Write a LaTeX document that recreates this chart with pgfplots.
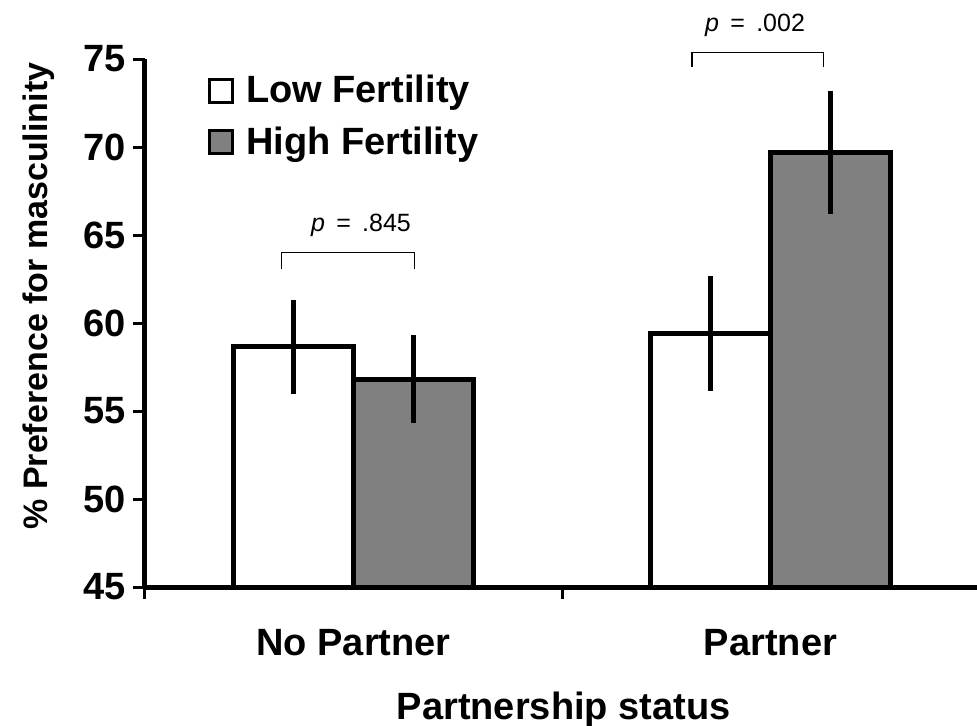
\documentclass[border=0pt]{standalone}
\usepackage{fontspec}
\setmainfont{Liberation Sans}
\usepackage{pgfplots}
\pgfplotsset{compat=1.18}
\begin{document}
\begin{tikzpicture}
\path[use as bounding box] (-72.5pt,-69pt) rectangle (416pt,293.5pt);
\begin{axis}[
  at={(0pt,0pt)}, anchor=south west,
  scale only axis, width=417pt, height=264pt,
  xmin=-0.5, xmax=1.5, ymin=45, ymax=75,
  axis x line=bottom, axis y line=left,
  axis line style={line width=2.5pt, -},
  ytick={45,50,...,75},
  xtick={0,1}, xticklabels={No Partner, Partner},
  minor xtick={-0.5,0.5,1.5},
  tick align=outside,
  major tick length=6pt, minor tick length=6pt,
  major x tick style={draw=none},
  minor x tick style={line width=1.5pt, black},
  y tick style={line width=1.5pt, black},
  /pgf/number format/assume math mode=true,
  tick label style={font=\bfseries\fontsize{19}{22}\selectfont},
  xlabel style={font=\bfseries\fontsize{19}{22}\selectfont},
  ylabel style={font=\bfseries\fontsize{17}{20}\selectfont},
  xticklabel style={anchor=base, yshift=-28pt},
  xlabel={Partnership status},
  ylabel={\% Preference for masculinity},
  xlabel style={at={(axis description cs:0.502,-0.25)}, anchor=base},
  ylabel style={at={(axis description cs:-0.117,0.551)}, anchor=base},
  clip mode=individual,
  legend style={at={(0.068,0.981)}, anchor=north west, draw=none, fill=none,
    font=\bfseries\fontsize{19}{22}\selectfont, row sep=8.5pt, column sep=5pt,
    nodes={inner sep=1pt}, cells={anchor=west}},
]
\addplot[ybar, bar width=0.288, bar shift=0pt, fill=white, draw=black, line width=2.5pt,
  legend image code/.code={\draw[fill=white, draw=black, line width=1.5pt] (0pt,-5.75pt) rectangle (11.5pt,5.75pt);},
  error bars/.cd, y dir=both, y explicit, error mark=none,
  error bar style={line width=2.5pt, black}]
  table[x=x, y=y, y error=e] {
x y e
-0.144 58.65 2.67
0.856 59.4 3.25
};
\addlegendentry{Low Fertility}
\addplot[ybar, bar width=0.288, bar shift=0pt, fill=gray, draw=black, line width=2.5pt,
  legend image code/.code={\draw[fill=gray, draw=black, line width=1.5pt] (0pt,-5.75pt) rectangle (11.5pt,5.75pt);},
  error bars/.cd, y dir=both, y explicit, error mark=none,
  error bar style={line width=2.2pt, black}]
  table[x=x, y=y, y error=e] {
x y e
0.144 56.8 2.5
1.144 69.7 3.5
};
\addlegendentry{High Fertility}
\draw[line width=0.8pt] (axis cs:-0.173,63.07) -- (axis cs:-0.173,64.0) -- (axis cs:0.146,64.0) -- (axis cs:0.146,63.07);
\draw[line width=0.8pt] (axis cs:0.812,74.56) -- (axis cs:0.812,75.38) -- (axis cs:1.127,75.38) -- (axis cs:1.127,74.56);
\node[anchor=base, font=\fontsize{12.5}{14}\selectfont] at (axis cs:0.018,65.2) {\textit{p}\hspace{0.45em}=\hspace{0.45em}.845};
\node[anchor=base, font=\fontsize{12.5}{14}\selectfont] at (axis cs:0.963,76.55) {\textit{p}\hspace{0.45em}=\hspace{0.45em}.002};
\end{axis}
\end{tikzpicture}
\end{document}
